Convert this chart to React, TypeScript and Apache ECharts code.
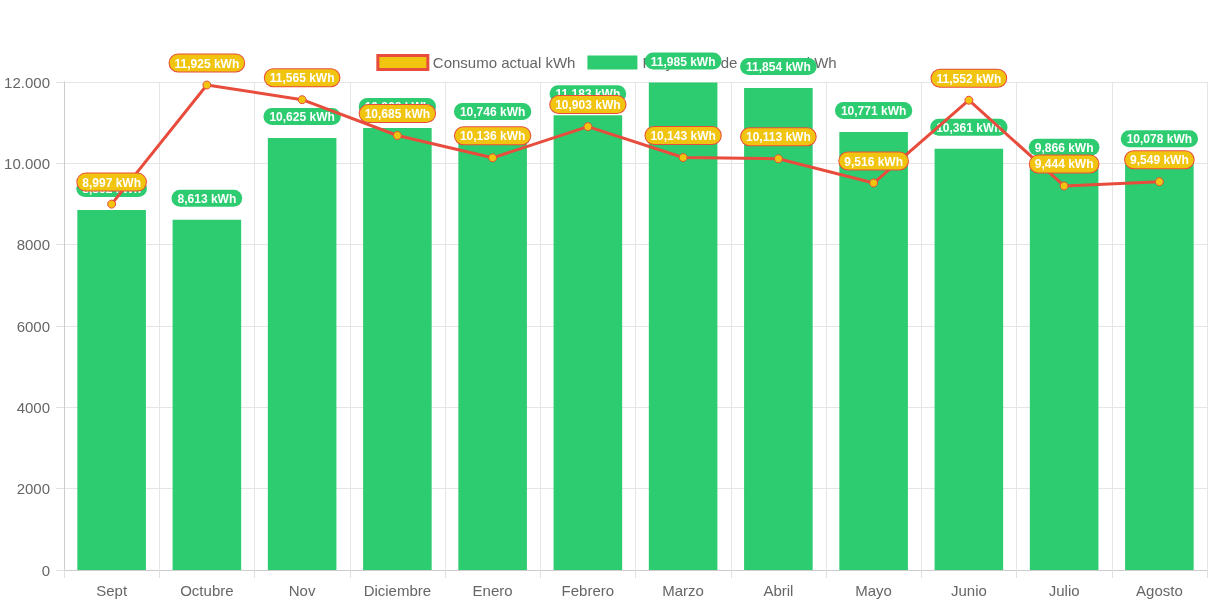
import React, { useEffect, useRef } from "react";
import * as echarts from "echarts";

const categories = ["Sept", "Octubre", "Nov", "Diciembre", "Enero", "Febrero", "Marzo", "Abril", "Mayo", "Junio", "Julio", "Agosto"];
const lineName = "Consumo actual kWh";
const barName = "Proyección de consumo kWh";
const actualValues = [8997, 11925, 11565, 10685, 10136, 10903, 10143, 10113, 9516, 11552, 9444, 9549];
const barValues = [8852, 8613, 10625, 10868, 10746, 11183, 11985, 11854, 10771, 10361, 9866, 10078];

const fmtKwh = (v: number) => v.toLocaleString("en-US") + " kWh";
const fmtAxis = (v: number) => (v >= 10000 ? v.toLocaleString("de-DE") : String(v));

export default function App() {
  const ref = useRef<HTMLDivElement>(null);
  useEffect(() => {
    const chart = echarts.init(ref.current!, undefined, { renderer: "svg" });
    const font = "Arial, 'Liberation Sans', Helvetica, sans-serif";
    chart.setOption({
      animation: false,
      textStyle: { fontFamily: font },
      legend: {
        top: 49,
        left: "center",
        z: 1,
        itemWidth: 50,
        itemHeight: 14,
        itemGap: 12,
        textStyle: { color: "#666", fontSize: 15, fontFamily: font },
        data: [
          { name: lineName, icon: "rect", itemStyle: { color: "#f1c40f", borderColor: "#e74c3c", borderWidth: 3 } },
          { name: barName, icon: "rect", itemStyle: { color: "#2ecc71" } },
        ],
      },
      grid: { left: 64, right: 6, top: 82, bottom: 36 },
      xAxis: {
        type: "category",
        data: categories,
        boundaryGap: true,
        axisLine: { lineStyle: { color: "#ccc" } },
        axisTick: { show: true, length: 8, lineStyle: { color: "#e0e0e0" } },
        splitLine: { show: true, lineStyle: { color: "#e5e5e5" } },
        axisLabel: { color: "#666", fontSize: 15, margin: 13, fontFamily: font },
      },
      yAxis: {
        type: "value",
        min: 0,
        max: 12000,
        interval: 2000,
        axisLine: { show: true, lineStyle: { color: "#ccc" } },
        axisTick: { show: true, length: 8, lineStyle: { color: "#e0e0e0" } },
        splitLine: { show: true, lineStyle: { color: "#e5e5e5" } },
        axisLabel: { color: "#666", fontSize: 15, margin: 14, fontFamily: font, formatter: fmtAxis },
      },
      series: [
        {
          name: barName,
          type: "bar",
          data: barValues,
          barWidth: "72%",
          z: 2,
          itemStyle: { color: "#2ecc71" },
          label: {
            show: true,
            position: "top",
            distance: 13,
            formatter: (p: any) => fmtKwh(p.value),
            color: "#fff",
            fontWeight: "bold",
            fontSize: 12,
            fontFamily: font,
            backgroundColor: "#2ecc71",
            borderRadius: 10,
            padding: [3, 6, 2, 6],
          },
        },
        {
          name: lineName,
          type: "line",
          data: actualValues,
          z: 3,
          symbol: "circle",
          symbolSize: 8,
          lineStyle: { color: "#e74c3c", width: 3 },
          itemStyle: { color: "#f1c40f", borderColor: "#e74c3c", borderWidth: 1 },
          label: {
            show: true,
            position: "top",
            distance: 9,
            formatter: (p: any) => fmtKwh(p.value),
            color: "#fff",
            fontWeight: "bold",
            fontSize: 12,
            fontFamily: font,
            backgroundColor: "#f1c40f",
            borderColor: "#e74c3c",
            borderWidth: 1,
            borderRadius: 10,
            padding: [3, 5, 2, 5],
          },
        },
      ],
    });
    return () => chart.dispose();
  }, []);
  return <div ref={ref} style={{ position: "fixed", left: 0, top: 0, width: 1213, height: 606 }} />;
}
